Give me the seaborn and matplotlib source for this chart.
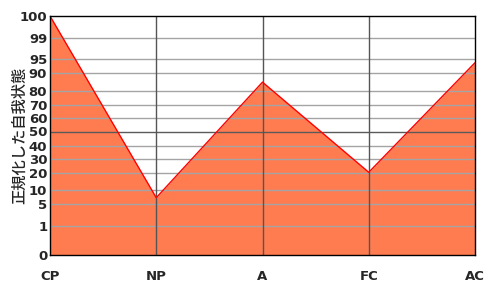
import numpy as np
import pandas as pd
import matplotlib
matplotlib.use("Agg")
import matplotlib.pyplot as plt
import seaborn as sns

categories = ["CP", "NP", "A", "FC", "AC"]
values = [100, 7.3, 85, 20.5, 93.7]
ytick_values = [0, 1, 5, 10, 20, 30, 40, 50, 60, 70, 80, 90, 95, 99, 100]
ytick_labels = ["0", "1", "5", "10", "20", "30", "40", "50", "60", "70", "80", "90", "95", "99", "100"]
# relative position of each tick on the nonlinear axis (measured from the chart)
ytick_pos = [0, 29, 51, 64.7, 82, 96, 109.3, 123.5, 137, 150, 164, 181.7, 196, 216.7, 239]
ylabel = "正規化した自我状態"

sns.set_theme(style="white")
plt.rcParams['font.family'] = ['DejaVu Sans', 'Noto Sans CJK JP']

tv = np.array(ytick_values, dtype=float)
tp = np.array(ytick_pos, dtype=float)

def fwd(v):
    return np.interp(v, tv, tp)

def inv(p):
    return np.interp(p, tp, tv)

df = pd.DataFrame({"x": np.arange(len(categories)), "y": values})

fig = plt.figure(figsize=(5, 3), dpi=100)
ax = fig.add_axes([50/500, 45/300, 425/500, 239/300])
ax.set_yscale('function', functions=(fwd, inv))

ax.fill_between(df["x"], 0, df["y"], color="#FF7B50", lw=0, zorder=1)
sns.lineplot(data=df, x="x", y="y", ax=ax, color="#FF0000", lw=1, zorder=3)

for v in ytick_values[1:-1]:
    ax.axhline(v, color="#5a5a5a" if v == 50 else "#a4a4a4", lw=1, zorder=2)
for i in range(1, len(categories) - 1):
    ax.axvline(i, color="#555555", lw=1, zorder=2)

ax.set_xlim(0, len(categories) - 1)
ax.set_ylim(0, 100)
ax.set_xticks(np.arange(len(categories)))
ax.set_xticklabels(categories, fontsize=9.5, fontweight="bold")
ax.set_yticks(ytick_values)
ax.set_yticklabels(ytick_labels, fontsize=9.5, fontweight="bold")
ax.yaxis.set_minor_locator(matplotlib.ticker.NullLocator())
ax.tick_params(axis="x", length=0, pad=11)
ax.tick_params(axis="y", length=0, pad=2)
ax.set_xlabel("")
ax.set_ylabel(ylabel, family=['Noto Sans CJK JP', 'DejaVu Sans'], fontsize=11, fontweight="medium")
ax.yaxis.set_label_coords(-22/425, 0.5)
for s in ax.spines.values():
    s.set_color("black")
    s.set_linewidth(1)
    s.set_zorder(4)

fig.savefig("out.png", dpi=100)
